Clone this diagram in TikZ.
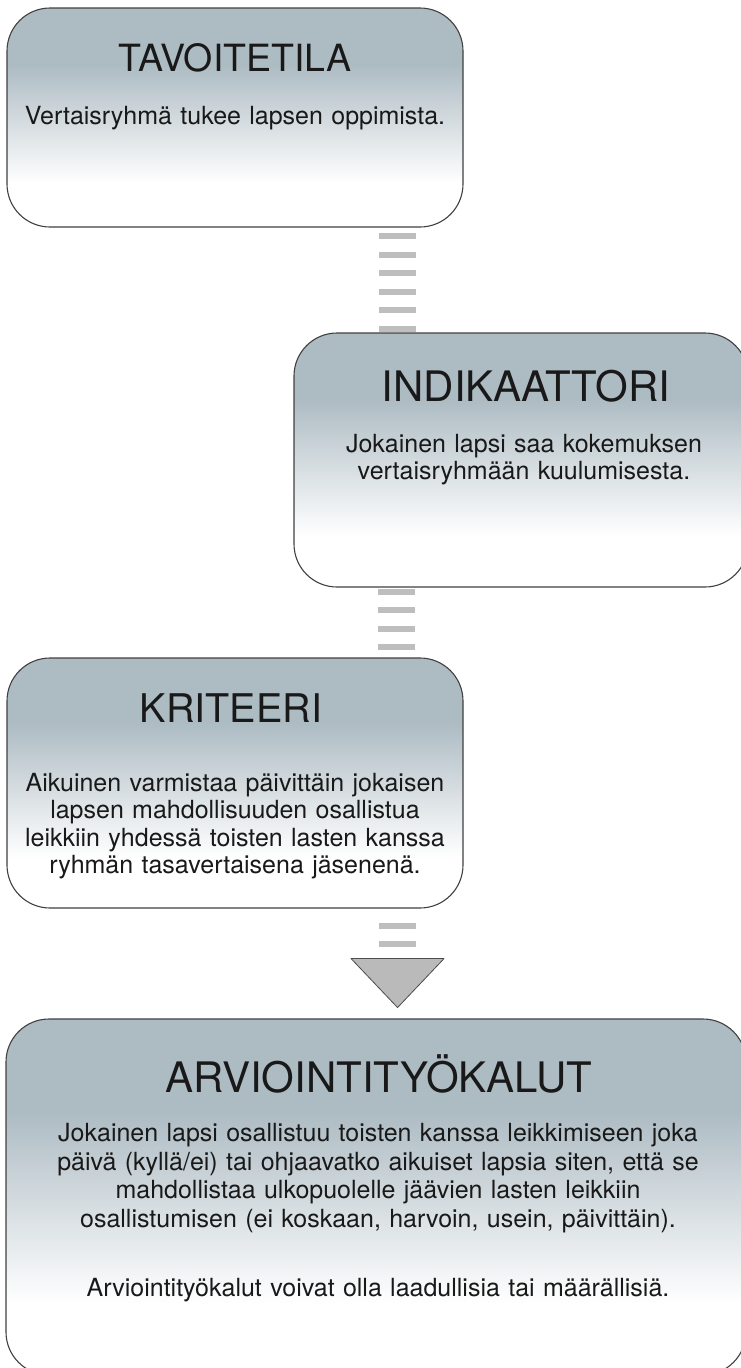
\documentclass[tikz,border=0pt]{standalone}
\usepackage{fontspec}
\setmainfont{TeX Gyre Heros}
\usetikzlibrary{calc}
\definecolor{boxgray}{RGB}{173,187,195}
\definecolor{bargray}{RGB}{190,190,190}
\definecolor{tipgray}{RGB}{186,186,186}
\pgfdeclareverticalshading{boxfade}{100bp}{color(0bp)=(white); color(35bp)=(white); color(50bp)=(boxgray!55!white); color(62bp)=(boxgray); color(100bp)=(boxgray)}
\tikzset{
  stagebox/.style={draw=black!75, line width=1.1pt, rounded corners=43pt,
    shade, shading=boxfade, inner sep=0pt},
  headtext/.style={font=\fontsize{#1}{#1}\selectfont, text=black!90,
    inner sep=0pt, anchor=base},
  bodytext/.style={font=\fontsize{25}{27.5}\selectfont, text=black!90,
    align=center, text width=440pt, inner sep=0pt, anchor=base},
  dashbar/.style={draw=bargray, line width=37pt, dash pattern=on 6pt off 12.6pt},
}
\begin{document}
\begin{tikzpicture}[x=1pt, y=-1pt]
\useasboundingbox (0,0) rectangle (741,1368);
\clip (0,0) rectangle (741,1368);
% laatikot
\node[stagebox, minimum width=456pt, minimum height=219pt] (tavoite) at (235,117.5) {};
\node[stagebox, minimum width=454pt, minimum height=254pt] (indikaattori) at (521,460) {};
\node[stagebox, minimum width=456pt, minimum height=250pt] (kriteeri) at (235,783) {};
\node[stagebox, minimum width=740pt, minimum height=356pt] (tyokalut) at (376,1197) {};
% tekstit
\node[headtext=37.5] (tavoiteotsikko) at ([yshift=-64pt]tavoite.north) {TAVOITETILA};
\node[bodytext] (tavoiteteksti) at ([yshift=-117pt]tavoite.north) {Vertaisryhmä tukee lapsen oppimista.};
\node[headtext=42] (indikotsikko) at ([xshift=5pt,yshift=-69pt]indikaattori.north) {INDIKAATTORI};
\node[bodytext] (indikteksti) at ([xshift=3pt,yshift=-120pt]indikaattori.north)
  {Jokainen lapsi saa kokemuksen\\ vertaisryhmään kuulumisesta.};
\node[headtext=39.5] (kritotsikko) at ([xshift=-4pt,yshift=-65pt]kriteeri.north) {KRITEERI};
\node[bodytext] (kritteksti) at ([yshift=-134pt]kriteeri.north)
  {Aikuinen varmistaa päivittäin jokaisen\\ lapsen mahdollisuuden osallistua\\
   leikkiin yhdessä toisten lasten kanssa\\ ryhmän tasavertaisena jäsenenä.};
\node[headtext=42] (tyokotsikko) at ([xshift=3pt,yshift=-74pt]tyokalut.north) {ARVIOINTITYÖKALUT};
\node[bodytext, text width=700pt, font=\fontsize{25}{28.7}\selectfont] (tyokteksti)
  at ([xshift=2pt,yshift=-123pt]tyokalut.north)
  {Jokainen lapsi osallistuu toisten kanssa leikkimiseen joka\\
   päivä (kyllä/ei) tai ohjaavatko aikuiset lapsia siten, että se\\
   mahdollistaa ulkopuolelle jäävien lasten leikkiin\\
   osallistumisen (ei koskaan, harvoin, usein, päivittäin).\\[40pt]
   Arviointityökalut voivat olla laadullisia tai määrällisiä.};
% yhteydet
\coordinate (k1) at ([xshift=-66pt]tavoite.south east);
\coordinate (k2) at ([xshift=103pt]indikaattori.south west);
\coordinate (k3) at ([xshift=-66pt]kriteeri.south east);
\draw[dashbar, shorten <=5.5pt] (k1) -- (k1 |- indikaattori.north);
\draw[dashbar, shorten <=1pt] (k2) -- (k2 |- kriteeri.north);
\coordinate (karki) at ($(k3)+(0,99)$);
\draw[dashbar, shorten <=14pt] (k3) -- ($(karki)+(0,-49)$);
\draw[fill=tipgray, draw=black!70, line width=0.8pt, line join=round]
  ($(karki)+(-46.5,-49)$) -- ($(karki)+(46.5,-49)$) -- (karki) -- cycle;
\end{tikzpicture}
\end{document}
